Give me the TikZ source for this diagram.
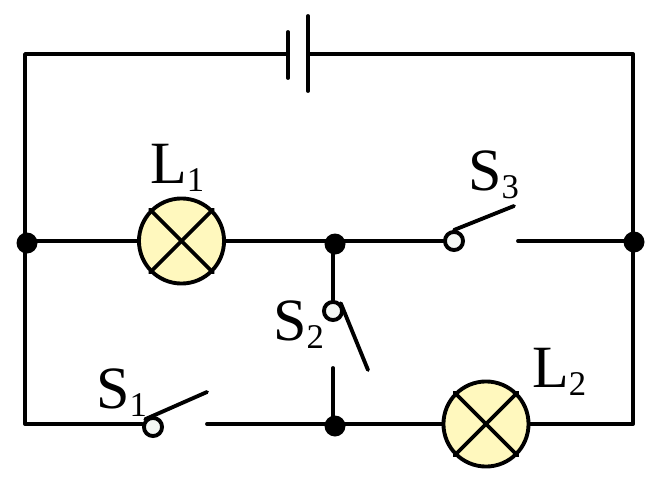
\documentclass[tikz,border=0pt]{standalone}
\usepackage{fontspec}
\setmainfont{Liberation Serif}
\definecolor{lampyellow}{HTML}{FFF8BE}
\definecolor{pivotfill}{HTML}{F4F7F4}
\newcommand{\circuitlabel}[2]{\fontsize{45}{45}\selectfont #1\raisebox{-6pt}{\fontsize{26}{26}\selectfont #2}}
\tikzset{
    wire/.style = {line width = 2.9pt, line cap = round, line join = round},
    lamp/.style = {circle, draw, line width = 2.9pt, fill = lampyellow, minimum size = 63.8pt, inner sep = 0pt},
    dot/.style = {circle, fill = black, minimum size = 15.75pt, inner sep = 0pt},
    pivot/.style = {circle, draw, line width = 2.9pt, fill = pivotfill, minimum size = 13.6pt, inner sep = 0pt},
    partlabel/.style = {anchor = base west, inner sep = 0pt}
}
\begin{document}
\begin{tikzpicture}[x = 0.75pt, y = -0.75pt]
        \useasboundingbox (0, 0) rectangle (651, 482);
        % corners and open contacts
        \coordinate (topleft) at (25, 54);
        \coordinate (topright) at (633, 54);
        \coordinate (botleft) at (25, 424);
        \coordinate (botright) at (633, 424);
        \coordinate (cellA) at (288, 54);
        \coordinate (cellB) at (308, 54);
        \coordinate (contactA) at (207, 424);
        \coordinate (contactB) at (333, 368);
        \coordinate (contactC) at (518, 241);
        \coordinate (bladeA) at (207, 392);
        \coordinate (bladeB) at (368, 370);
        \coordinate (bladeC) at (514, 206);
        % lamps
        \node[lamp] (lampA) at (181.5, 241) {};
        \node[lamp] (lampB) at (486, 424) {};
        \foreach \lampname in {lampA, lampB}
            {
                \draw[wire] (\lampname.45) -- (\lampname.225);
                \draw[wire] (\lampname.135) -- (\lampname.315);
            }
        % junctions and switch pivots
        \node[dot] (joinA) at (27, 243) {};
        \node[dot] (joinB) at (335, 244) {};
        \node[dot] (joinC) at (634, 242) {};
        \node[dot] (joinD) at (335, 426) {};
        \node[pivot] (pivotA) at (153, 427) {};
        \node[pivot] (pivotB) at (333, 311) {};
        \node[pivot] (pivotC) at (454, 241) {};
        % battery
        \draw[wire] (288, 32) -- (288, 78);
        \draw[wire] (308, 16) -- (308, 91);
        % wires
        \draw[wire] (cellA) -- (topleft) -- (botleft) -- (botleft -| pivotA.west);
        \draw[wire] (cellB) -- (topright) -- (botright) -- (lampB.east);
        \draw[wire] (lampA.west) -- (lampA.west -| joinA);
        \draw[wire] (lampA.east) -- (pivotC.west);
        \draw[wire] (contactC) -- (contactC -| joinC);
        \draw[wire] (contactA) -- (lampB.west);
        \draw[wire] (pivotB.north) -- (pivotB.north |- joinB);
        \draw[wire] (contactB) -- (contactB |- joinD);
        % switch blades
        \draw[wire] (pivotA.north west) -- (bladeA);
        \draw[wire] (pivotB.north east) -- (bladeB);
        \draw[wire] (pivotC.north) -- (bladeC);
        % labels
        \node[partlabel] (labelLA) at (150, 183) {\circuitlabel{L}{1}};
        \node[partlabel] (labelLB) at (532, 387) {\circuitlabel{L}{2}};
        \node[partlabel] (labelSA) at (96, 408) {\circuitlabel{S}{1}};
        \node[partlabel] (labelSB) at (273, 340) {\circuitlabel{S}{2}};
        \node[partlabel] (labelSC) at (468, 190) {\circuitlabel{S}{3}};
    \end{tikzpicture}
\end{document}
